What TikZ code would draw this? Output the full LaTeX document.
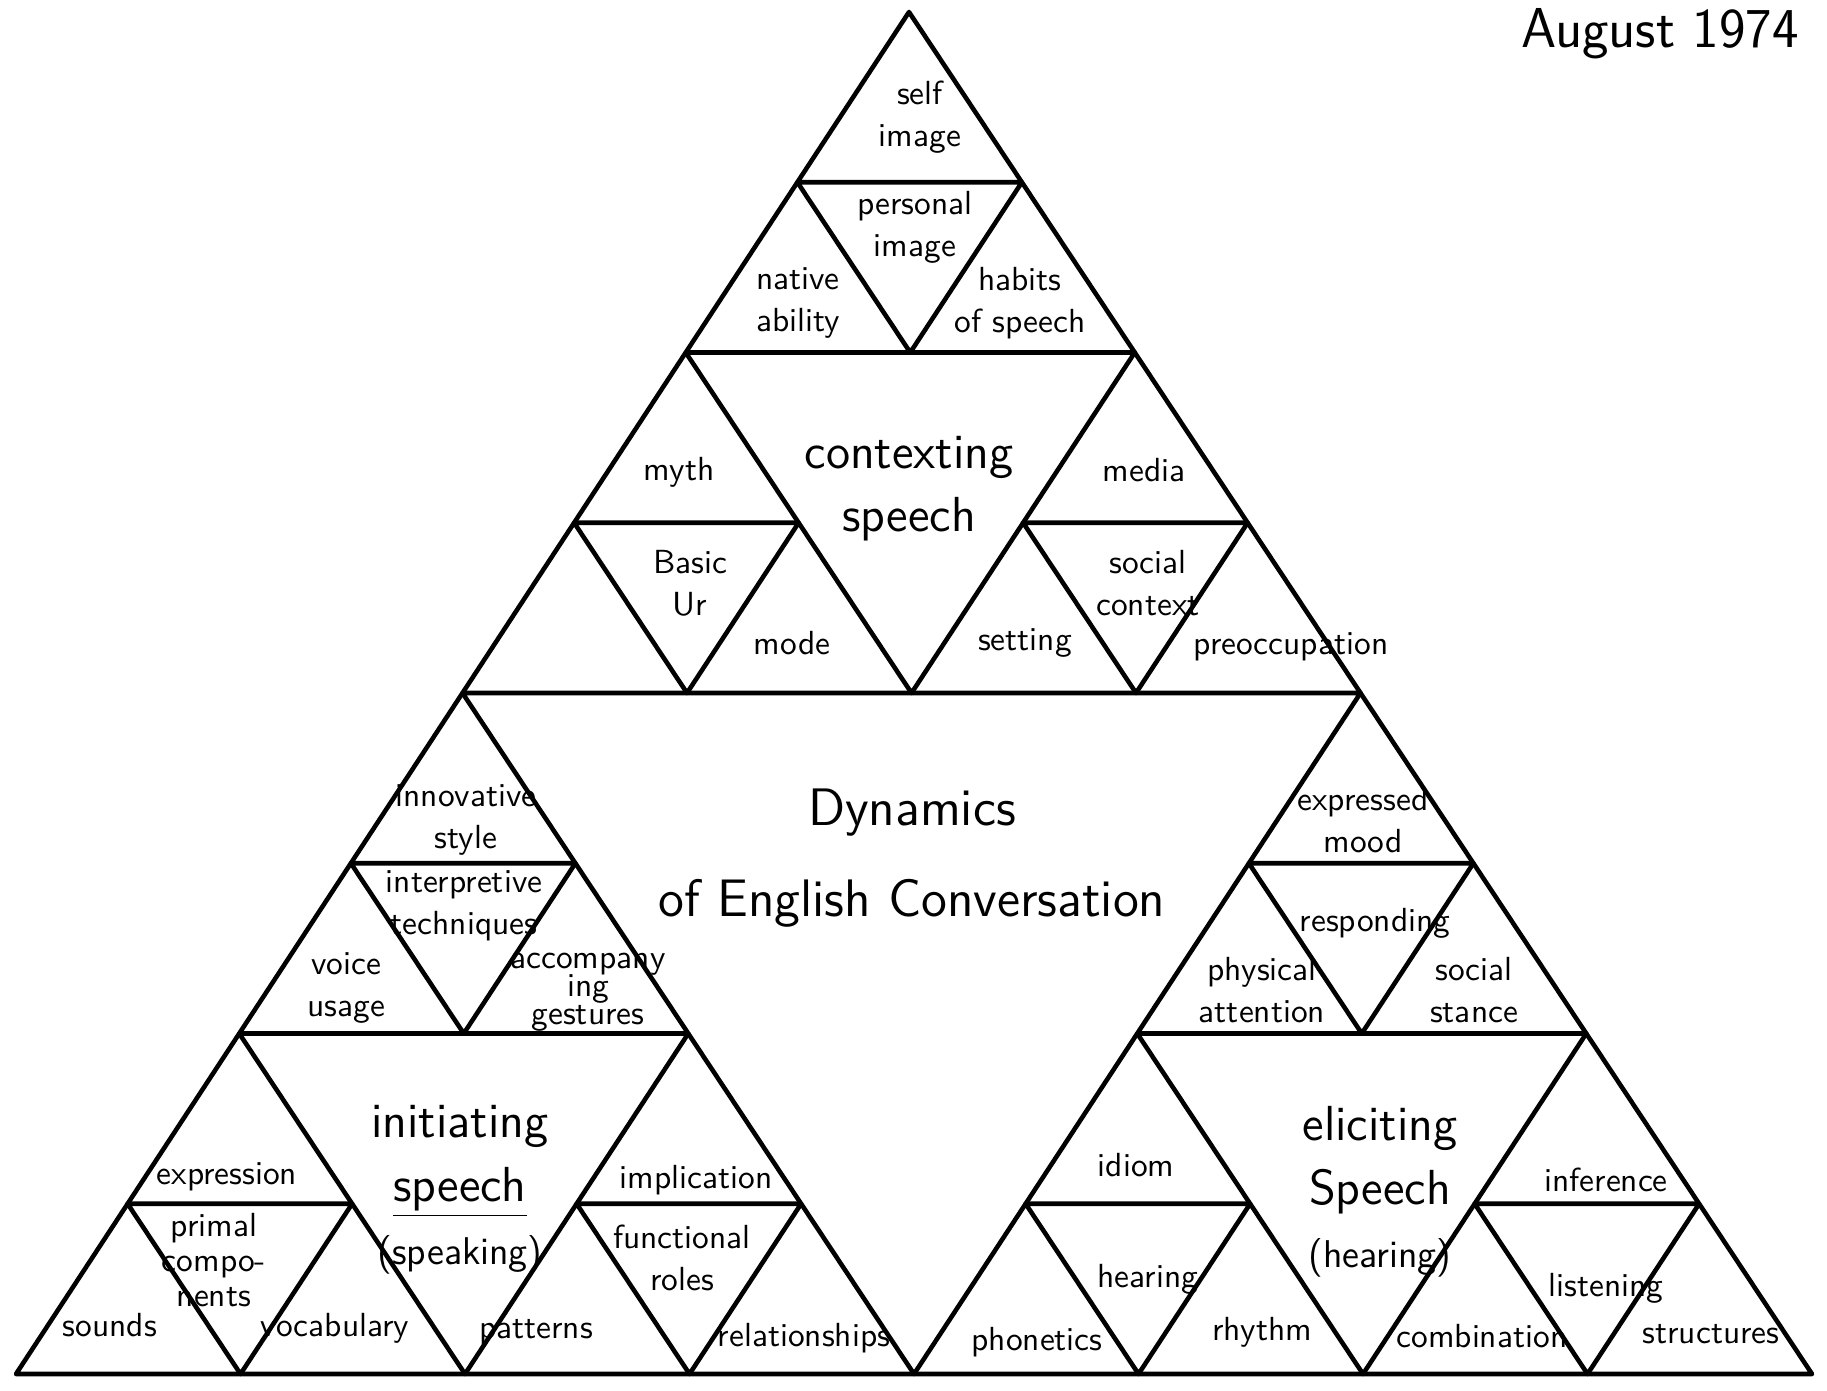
\documentclass[tikz,border=0pt]{standalone}
\usetikzlibrary{calc}
\begin{document}
\begin{tikzpicture}[x=0.01cm,y=-0.01cm,
  tri/.style={draw=black,line width=1.3pt,line join=round},
  lab/.style={font=\sffamily\fontsize{9.5}{12}\selectfont,align=center,inner sep=0pt},
  mid/.style={font=\sffamily\fontsize{14}{18}\selectfont,align=center,inner sep=0pt},
  ttl/.style={font=\sffamily\fontsize{15}{26}\selectfont,align=center,inner sep=0pt},
  note/.style={font=\sffamily\fontsize{16}{18}\selectfont,inner sep=0pt}]
\useasboundingbox (0,0) rectangle (1827,1390);
% grid points of the Sierpinski triangle (row i, position j)
\foreach \i in {0,...,8}{
  \foreach \j in {0,...,\i}{
    \coordinate (p\i-\j) at ({909-111.625*\i+224.5*\j},{12+170.25*\i});
  }
}
% level 0 and level 1
\draw[tri] (p0-0) -- (p8-0) -- (p8-8) -- cycle;
\draw[tri] (p4-0) -- (p4-4) -- (p8-4) -- cycle;
% level 2
\foreach \u/\v/\w in {2-0/2-2/4-2, 6-0/6-2/8-2, 6-4/6-6/8-6}
  \draw[tri] (p\u) -- (p\v) -- (p\w) -- cycle;
% level 3
\foreach \u/\v/\w in {1-0/1-1/2-1, 3-0/3-1/4-1, 3-2/3-3/4-3,
                      5-0/5-1/6-1, 7-0/7-1/8-1, 7-2/7-3/8-3,
                      5-4/5-5/6-5, 7-4/7-5/8-5, 7-6/7-7/8-7}
  \draw[tri] (p\u) -- (p\v) -- (p\w) -- cycle;

% date
\node[note] (date) at (1660,34) {August 1974};

% top
\node[lab] (self) at (920,117) {self\\image};
\node[lab] (persimg) at (915,227) {personal\\image};
\node[lab] (native) at (798,303) {native\\ability};
\node[lab] (habits) at (1020,303) {habits\\of speech};
\node[lab] (myth) at (679,472) {myth};
\node[lab] (basic) at (690,583) {Basic\\Ur};
\node[lab] (mode) at (792,643) {mode};
\node[mid] (ctx) at (909,489) {contexting\\speech};
\node[lab] (media) at (1144,470) {media};
\node[lab] (socctx) at (1148,583) {social\\context};
\node[lab] (setting) at (1025,643) {setting};
\node[lab] (preocc) at (1291,647) {preoccupation};

% centre
\node[ttl] (dyn) at (912,858) {Dynamics\\of English Conversation};

% left
\node[mid] (init) at (460,1190) {initiating\\\underline{speech}\\{\fontsize{11}{13}\selectfont(speaking)}};
\node[lab] (innov) at (466,820) {innovative\\style};
\node[lab] (interp) at (464,906) {interpretive\\techniques};
\node[lab] (voice) at (346,988) {voice\\usage};
\node[lab] (accomp) at (588,992) {accompany\\[-4pt]ing\\[-4pt]gestures};
\node[lab] (expr) at (227,1177) {expression};
\node[lab] (primal) at (214,1260) {primal\\[-2pt]compo-\\[-2pt]nents};
\node[lab] (sounds) at (110,1325) {sounds};
\node[lab] (vocab) at (335,1328) {vocabulary};
\node[lab] (impl) at (696,1180) {implication};
\node[lab] (func) at (682,1258) {functional\\roles};
\node[lab] (patterns) at (536,1332) {patterns};
\node[lab] (relat) at (804,1338) {relationships};

% right
\node[mid] (elic) at (1380,1192) {eliciting\\Speech\\{\fontsize{11}{13}\selectfont(hearing)}};
\node[lab] (expmood) at (1363,820) {expressed\\mood};
\node[lab] (respond) at (1375,923) {responding};
\node[lab] (physatt) at (1262,990) {physical\\attention};
\node[lab] (socstance) at (1474,990) {social\\stance};
\node[lab] (idiom) at (1136,1165) {idiom};
\node[lab] (hearing) at (1148,1279) {hearing};
\node[lab] (phonetics) at (1037,1342) {phonetics};
\node[lab] (rhythm) at (1262,1332) {rhythm};
\node[lab] (infer) at (1606,1180) {inference};
\node[lab] (listen) at (1606,1288) {listening};
\node[lab] (combin) at (1482,1336) {combination};
\node[lab] (struct) at (1711,1334) {structures};
\end{tikzpicture}
\end{document}
